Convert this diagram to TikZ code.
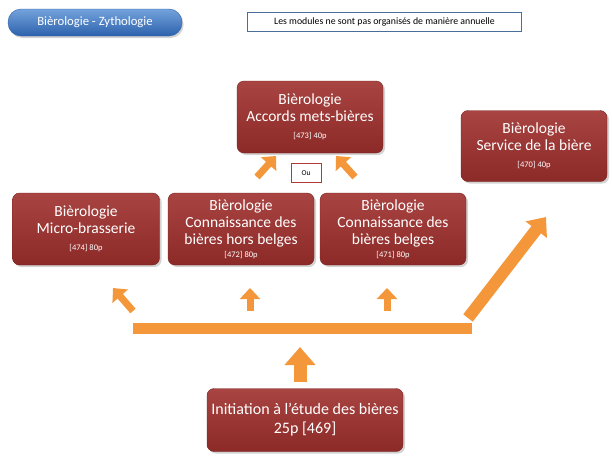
\documentclass[tikz,border=0pt]{standalone}
\usepackage{fontspec}
\setmainfont{Carlito}
\usetikzlibrary{arrows.meta,shadows}
\definecolor{boxtop}{HTML}{A84441}
\definecolor{boxbot}{HTML}{8C2A28}
\definecolor{boxline}{HTML}{7A2321}
\definecolor{pilltop}{HTML}{74A3DC}
\definecolor{pillbot}{HTML}{2C61AC}
\definecolor{noteline}{HTML}{4A6E9C}
\definecolor{arrowor}{HTML}{F4973A}
\definecolor{ouline}{HTML}{B03A36}
\newcommand{\modref}[1]{{\fontsize{8.5}{10}\selectfont #1}}
\tikzset{
  module/.style={rounded corners=7pt, top color=boxtop, bottom color=boxbot,
    draw=boxline, text=white, align=center, inner sep=2pt,
    font=\fontsize{15.5}{17}\selectfont,
    drop shadow={opacity=0.35, shadow xshift=2pt, shadow yshift=-2pt}},
  smallarrow/.style={draw=arrowor, line width=7pt,
    -{Triangle[width=20pt,length=11pt]}},
  bigarrow/.style={draw=arrowor, line width=13pt,
    -{Triangle[width=30pt,length=18pt]}}
}
\begin{document}
\begin{tikzpicture}[x=1pt,y=-1pt]
   \useasboundingbox (0,0) rectangle (612,455);
   \node[rounded corners=13pt, top color=pilltop, bottom color=pillbot, draw=pillbot,
         text=white, minimum width=174pt, minimum height=27pt,
         font=\fontsize{12.7}{15}\selectfont,
         drop shadow={opacity=0.35, shadow xshift=1.5pt, shadow yshift=-2pt}]
         (titre) at (95,22.5) {Bièrologie - Zythologie};
   \node[draw=noteline, line width=1.5pt, fill=white, minimum width=274pt, minimum height=19pt,
         font=\fontsize{9.8}{11}\selectfont] (note) at (384.5,22) {Les modules ne sont pas organisés de manière annuelle};

   \node[module, minimum width=146pt, minimum height=72pt] (m473) at (310,117)
         {Bièrologie\\Accords mets-bières\\\modref{[473] 40p}};
   \node[module, minimum width=146pt, minimum height=71pt] (m470) at (534,146)
         {Bièrologie\\Service de la bière\\\modref{[470] 40p}};
   \node[module, minimum width=147pt, minimum height=72pt] (m474) at (86,229)
         {Bièrologie\\Micro-brasserie\\\modref{[474] 80p}};
   \node[module, minimum width=146pt, minimum height=72pt] (m472) at (241,229)
         {Bièrologie\\Connaissance des\\bières hors belges\\[-4pt]\modref{[472] 80p}};
   \node[module, minimum width=146pt, minimum height=72pt] (m471) at (393,229)
         {Bièrologie\\Connaissance des\\bières belges\\[-4pt]\modref{[471] 80p}};
   \node[module, minimum width=196pt, minimum height=63pt, font=\fontsize{16}{19}\selectfont] (m469) at (305,420)
         {Initiation à l’étude des bières\\25p [469]};
   \node[draw=ouline, line width=1pt, fill=white, minimum width=30pt, minimum height=19pt,
         font=\fontsize{7.5}{8}\selectfont] (ou) at (306,173) {Ou};

   \coordinate (ouGa) at (257,177);
   \coordinate (ouGb) at (276,156);
   \coordinate (ouDa) at (355,177);
   \coordinate (ouDb) at (336,156);
   \coordinate (barG) at (133,328);
   \coordinate (barD) at (472,328);
   \coordinate (f474a) at (133,311);
   \coordinate (f474b) at (113,288);
   \coordinate (f472a) at (250,311);
   \coordinate (f472b) at (250,288);
   \coordinate (f471a) at (387,311);
   \coordinate (f471b) at (387,288);
   \coordinate (f469a) at (300,382);
   \coordinate (f469b) at (300,347);
   \coordinate (f470a) at (468,318);
   \coordinate (f470b) at (546,217);

   \draw[smallarrow] (ouGa) -- (ouGb);
   \draw[smallarrow] (ouDa) -- (ouDb);
   \draw[smallarrow] (f474a) -- (f474b);
   \draw[smallarrow] (f472a) -- (f472b);
   \draw[smallarrow] (f471a) -- (f471b);
   \draw[bigarrow] (f469a) -- (f469b);
   \draw[draw=arrowor, line width=11pt] (barG) -- (barD);
   \draw[draw=arrowor, line width=12pt, -{Triangle[width=26pt,length=16pt]}] (f470a) -- (f470b);
\end{tikzpicture}
\end{document}
